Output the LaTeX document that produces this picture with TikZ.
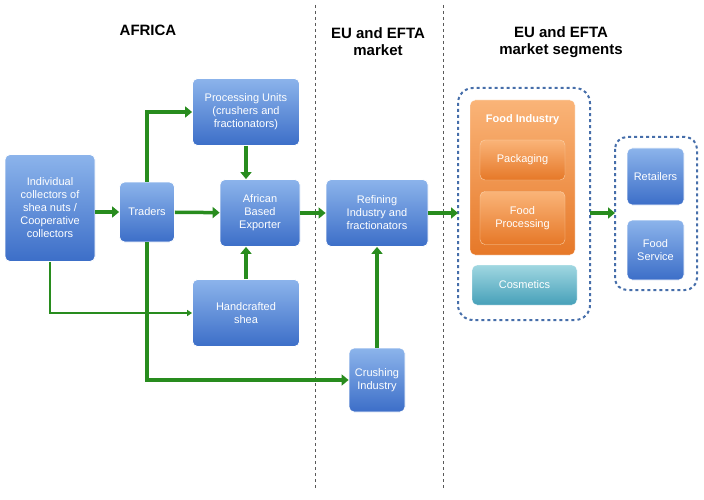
\documentclass[tikz,border=0pt]{standalone}
\usepackage{fontspec}
\setmainfont{Liberation Sans}
\usetikzlibrary{arrows.meta}
\begin{document}
\begin{tikzpicture}[x=1pt,y=-1pt,
 box/.style={draw=white,line width=0.8pt,rounded corners=5pt,top color={rgb,255:red,140;green,180;blue,235},bottom color={rgb,255:red,60;green,110;blue,200},text=white,font=\fontsize{11}{13}\selectfont,align=center,inner sep=2pt},
 obox/.style={draw=white,rounded corners=5pt,top color={rgb,255:red,250;green,180;blue,120},bottom color={rgb,255:red,230;green,120;blue,40},text=white,font=\fontsize{11}{13}\selectfont,align=center},
 arr/.style={draw={rgb,255:red,40;green,140;blue,30},line width=3.5pt,-{Triangle[length=7pt,width=11pt]}},
 head/.style={font=\bfseries\fontsize{15}{17}\selectfont,align=center}]
\useasboundingbox (0,0) rectangle (704,500);
\node[head] at (148,30) {AFRICA};
\node[head] at (378,42) {EU and EFTA\\market};
\node[head] at (561,42) {EU and EFTA\\market segments};
\draw[dashed,gray!70!black] (315,5) -- (315,490);
\draw[dashed,gray!70!black] (443,5) -- (443,490);
\node[box,minimum width=90pt,minimum height=107pt] (col) at (50,208) {Individual\\collectors of\\shea nuts /\\Cooperative\\collectors};
\node[box,minimum width=55pt,minimum height=60pt] (tra) at (147,212) {Traders};
\node[box,minimum width=107pt,minimum height=67pt] (pro) at (246,112) {Processing Units\\(crushers and\\fractionators)};
\node[box,minimum width=80pt,minimum height=67pt] (exp) at (260,213) {African\\Based\\Exporter};
\node[box,minimum width=107pt,minimum height=67pt] (han) at (246,313) {Handcrafted\\shea};
\node[box,minimum width=102pt,minimum height=67pt] (ref) at (377,213) {Refining\\Industry and\\fractionators};
\node[box,minimum width=56pt,minimum height=64pt] (cru) at (377,380) {Crushing\\Industry};
\draw[dashed,line width=2pt,draw={rgb,255:red,70;green,110;blue,170},rounded corners=15pt] (458,88) rectangle (590,320);
\coordinate (g1w) at (458,213); \coordinate (g1e) at (590,213);
\node[obox,minimum width=105pt,minimum height=155pt] (fi) at (522.5,177.5) {};
\node[font=\bfseries\fontsize{11}{13}\selectfont,text=white] (fit) at (522.5,120) {Food Industry};
\node[obox,minimum width=85pt,minimum height=40pt,draw={rgb,255:red,250;green,210;blue,170}] (pac) at (522.5,160) {Packaging};
\node[obox,minimum width=85pt,minimum height=53pt,draw={rgb,255:red,250;green,210;blue,170}] (fp) at (522.5,218) {Food\\Processing};
\node[draw=white,rounded corners=5pt,top color={rgb,255:red,160;green,215;blue,225},bottom color={rgb,255:red,70;green,160;blue,185},text=white,font=\fontsize{11}{13}\selectfont,minimum width=105pt,minimum height=40pt] (cos) at (524.5,285) {Cosmetics};
\draw[dashed,line width=2pt,draw={rgb,255:red,70;green,110;blue,170},rounded corners=12pt] (615,137) rectangle (697,290);
\coordinate (g2w) at (615,213);
\node[box,minimum width=57pt,minimum height=57pt] (ret) at (655.5,176.5) {Retailers};
\node[box,minimum width=57pt,minimum height=60pt] (fs) at (655.5,250) {Food\\Service};
\draw[arr] (col.east|-tra) -- (tra.west);
\draw[arr] (tra) -- (exp);
\draw[arr] (tra.north) |- (pro.west);
\draw[arr] (pro.south) -- (pro.south|-exp.north);
\draw[arr] (han.north) -- (han.north|-exp.south);
\draw[arr] (exp) -- (ref);
\draw[arr] (tra.south) |- (cru.west);
\draw[arr] (cru) -- (ref);
\draw[arr] (ref) -- (g1w);
\draw[arr] (g1e) -- (g2w);
\draw[draw={rgb,255:red,40;green,140;blue,30},line width=1.3pt,-{Triangle[length=5pt,width=6pt]}] (col.south) |- (han.west);
\end{tikzpicture}
\end{document}
